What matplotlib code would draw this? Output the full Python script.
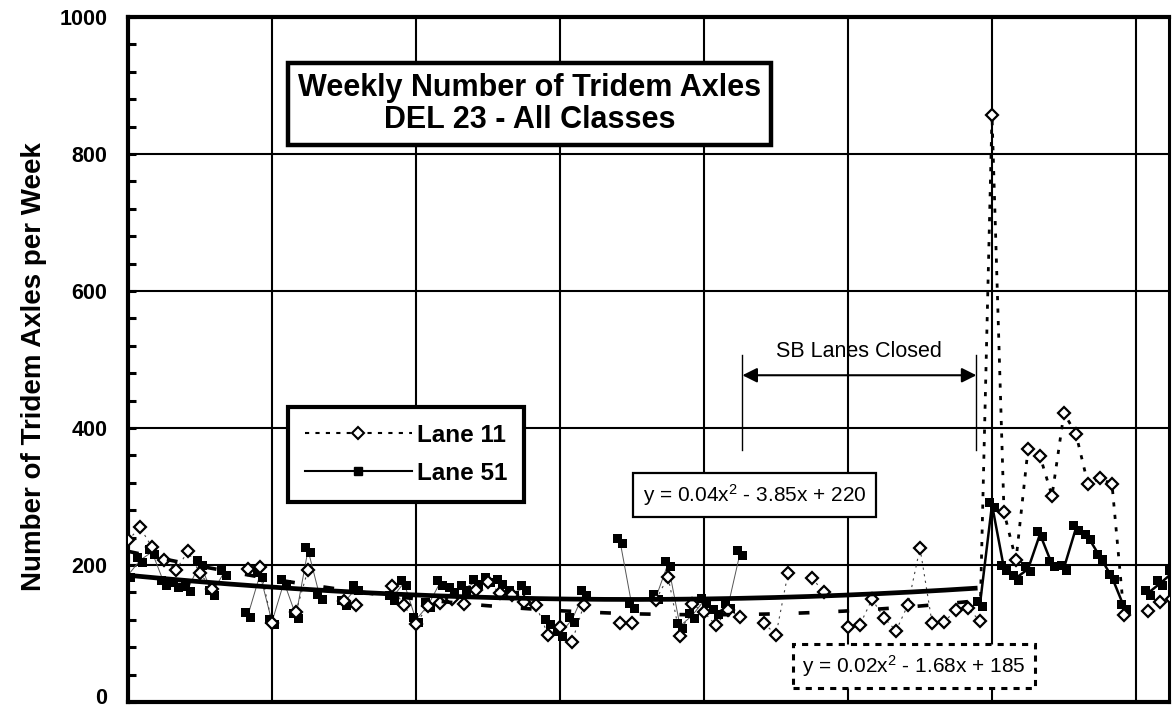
import numpy as np
import matplotlib
matplotlib.use("Agg")
import matplotlib.pyplot as plt
from matplotlib.path import Path
from matplotlib.lines import Line2D
from matplotlib.transforms import ScaledTranslation

plt.rcParams['font.family'] = ['Liberation Sans', 'DejaVu Sans']
plt.rcParams['mathtext.fontset'] = 'custom'
plt.rcParams['mathtext.rm'] = 'Liberation Sans'
plt.rcParams['mathtext.it'] = 'Liberation Sans'

nan = np.nan
# ---- data (week index, axles per week) ----
weeks = np.arange(0, 88)
lane11 = [236, 255, 226, 207, 193, 220, 188, 165, nan, nan,
          194, 197, 115, nan, 132, 193, nan, nan, 147, 141,
          nan, nan, 169, 141, 114, 140, 145, 150, 143, 163,
          175, 159, 156, 146, 141, 98, 110, 88, 142, nan,
          nan, 115, 115, nan, 149, 183, 96, 143, 131, 112,
          135, 124, nan, 115, 98, 188, nan, 181, 160, nan,
          110, 113, 150, 123, 104, 142, 225, 116, 117, 134,
          137, 118, 857, 277, 207, 369, 359, 301, 422, 391,
          318, 327, 318, 127, nan, 133, 146, 150]
lane51 = [185, 207, 219, 174, 171, 165, 203, 159, 189, nan,
          127, 186, 117, 175, 126, 222, 153, nan, 145, 166,
          nan, nan, 152, 174, 120, 141, 174, 164, 166, 175,
          178, 175, 159, 166, nan, 117, 100, 120, 159, nan,
          nan, 235, 140, nan, 153, 202, 111, 126, 148, 131,
          140, 217, nan, nan, nan, nan, nan, nan, nan, nan,
          nan, nan, nan, nan, nan, nan, nan, nan, nan, nan,
          nan, 143, 288, 195, 181, 194, 245, 201, 196, 254,
          241, 212, 182, 139, nan, 159, 173, 188]
# trend line coefficients (a, b, c) from the chart labels
trend11 = (0.04, -3.85, 220)
trend51 = (0.02, -1.68, 185)
trend_end = 70.6
closure_start, closure_end = 51.2, 70.7

lane11 = np.array(lane11, dtype=float)
lane51 = np.array(lane51, dtype=float)

fig = plt.figure(figsize=(11.72, 7.09), dpi=100)
ax = fig.add_axes([128/1172, 1-702/709, 1041/1172, 685/709])

# doubled square marker (as rendered in the original)
sq = lambda x0, y0, s: [(x0, y0), (x0+s, y0), (x0+s, y0+s), (x0, y0+s), (x0, y0)]
verts = sq(-6.5, -1.5, 8) + sq(-1.5, -6.5, 8)
codes = ([Path.MOVETO] + [Path.LINETO]*3 + [Path.CLOSEPOLY])*2
dsq = Path(verts, codes)

early = weeks <= 71
late = weeks >= 71

# lane 51
ax.plot(weeks[early], lane51[early], color='#555555', lw=0.7, zorder=3)
ax.plot(weeks[late], lane51[late], color='black', lw=1.8, zorder=3)
ax.plot(weeks, lane51, ls='none', marker=dsq, ms=9.4, mfc='black', mec='black',
        mew=0, zorder=4)
# lane 11
ax.plot(weeks[early], lane11[early], color='#444444', lw=0.8, ls=(0, (2, 4)), zorder=3)
ax.plot(weeks[late], lane11[late], color='black', lw=2.0, ls=(0, (1.5, 3)), zorder=3)
ax.plot(weeks, lane11, ls='none', marker='D', ms=6.5, mfc='white', mec='black',
        mew=1.6, zorder=5)

# trend lines
xt = np.linspace(0, trend_end, 200)
ax.plot(xt, np.polyval(trend51, xt), color='black', lw=3.4, zorder=6)
ax.plot(xt, np.polyval(trend11, xt), color='black', lw=2.6, ls=(0, (3, 8)), zorder=6)

ax.set_xlim(0, 86.75)
ax.set_ylim(0, 1000)
ax.set_xticks(np.arange(12, 86, 12))
ax.set_yticks(np.arange(0, 1001, 200))
ax.set_yticks(np.arange(0, 1001, 40), minor=True)
ax.tick_params(axis='x', length=0, labelbottom=False)
ax.tick_params(axis='y', which='both', direction='in', width=2.2, length=6,
               labelsize=15.5, pad=15)
for lab in ax.get_yticklabels():
    lab.set_fontweight('bold')
# nudge the "0" label up slightly so it stays inside the canvas
lab0 = ax.yaxis.get_major_ticks()[0].label1
lab0.set_transform(lab0.get_transform() + ScaledTranslation(0, 4/72, fig.dpi_scale_trans))
ax.grid(True, which='major', color='black', lw=1.5)
ax.set_axisbelow(True)
for s in ['left', 'bottom', 'top']:
    ax.spines[s].set_linewidth(3)
ax.spines['right'].set_linewidth(2.2)

ax.set_ylabel('Number of Tridem Axles per Week', fontsize=20, fontweight='bold')
ax.yaxis.set_label_coords(-0.078, 0.489)

# title box
ax.text(0.386, 0.873, 'Weekly Number of Tridem Axles\nDEL 23 - All Classes',
        transform=ax.transAxes, ha='center', va='center', fontsize=22,
        fontweight='bold', linespacing=1.12, zorder=10,
        bbox=dict(boxstyle='square,pad=0.32', fc='white', ec='black', lw=3.2))

# legend
h11 = Line2D([], [], color='black', lw=1.5, ls=(0, (2, 3)), marker='D', ms=6.5,
             mfc='white', mec='black', mew=1.5)
h51 = Line2D([], [], color='black', lw=1.5, marker='s', ms=6, mfc='black', mec='black')
leg = ax.legend([h11, h51], ['Lane 11', 'Lane 51'], loc='upper left',
                bbox_to_anchor=(0.1537, 0.4307), prop=dict(size=17.5, weight='bold'),
                frameon=True, fancybox=False, framealpha=1, edgecolor='black',
                handlelength=4.4, handletextpad=0.2, borderpad=0.7, labelspacing=0.6,
                borderaxespad=0)
leg.get_frame().set_linewidth(3)
leg.set_zorder(10)

# trend equation boxes
ax.text(0.602, 0.302, 'y = 0.04x$^{2}$ - 3.85x + 220', transform=ax.transAxes,
        ha='center', va='center', fontsize=15, zorder=10,
        bbox=dict(boxstyle='square,pad=0.45', fc='white', ec='black', lw=1.6))
ax.text(0.755, 0.0526, 'y = 0.02x$^{2}$ - 1.68x + 185', transform=ax.transAxes,
        ha='center', va='center', fontsize=15, zorder=10,
        bbox=dict(boxstyle='square,pad=0.45', fc='white', ec='black', lw=2.2,
                  ls=(0, (2, 2))))

# closure annotation
ax.plot([closure_start, closure_start], [368, 507], color='black', lw=1.0, zorder=7)
ax.plot([closure_end, closure_end], [368, 507], color='black', lw=1.0, zorder=7)
ax.annotate('', xy=(closure_end, 477), xytext=(closure_start, 477),
            arrowprops=dict(arrowstyle='<|-|>', color='black', lw=1.5,
                            mutation_scale=22, shrinkA=0, shrinkB=0), zorder=7)
ax.text((closure_start + closure_end) / 2, 511, 'SB Lanes Closed', ha='center',
        va='center', fontsize=15.5, zorder=7)

fig.savefig('out.png', dpi=100)
